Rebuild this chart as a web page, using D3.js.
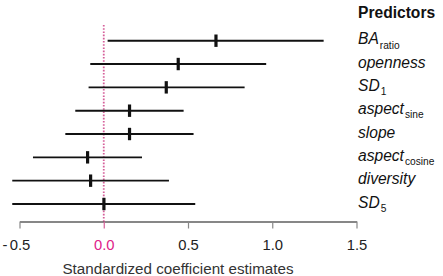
<!DOCTYPE html>
<html><head><meta charset="utf-8">
<script src="https://cdn.jsdelivr.net/npm/d3@7"></script>
<style>body{margin:0;background:#fff}svg{display:block;font-family:"Liberation Sans",Arial,sans-serif}</style>
</head><body><svg id="c" width="443" height="276"></svg>
<script>
const predictors = ["BA","openness","SD","aspect","slope","aspect","diversity","SD"];
const subscripts = ["ratio","","1","sine","","cosine","","5"];
const estimates = [0.666, 0.442, 0.371, 0.153, 0.153, -0.096, -0.078, 0.001];
const lower = [0.023, -0.08, -0.09, -0.169, -0.228, -0.42, -0.543, -0.543];
const upper = [1.305, 0.964, 0.836, 0.474, 0.533, 0.227, 0.387, 0.543];
const tickValues = [-0.5, 0, 0.5, 1.0, 1.5];
const tickLabels = ["-0.5", "0.0", "0.5", "1.0", "1.5"];

const svg = d3.select("#c");
const x = d3.scaleLinear().domain([-0.5, 1.5]).range([19.5, 356.5]);
const y = d3.scalePoint().domain(d3.range(predictors.length)).range([40.7, 204]);
const pink = "#e0218a";

// zero line
svg.append("line").attr("x1", x(0)).attr("x2", x(0)).attr("y1", 25).attr("y2", 221.5)
  .attr("stroke", "#d6609a").attr("stroke-width", 1.8).attr("stroke-dasharray", "1.6,1.6");

const rows = svg.append("g").selectAll("g").data(estimates).join("g");
rows.append("line").attr("x1", (d, i) => x(lower[i])).attr("x2", (d, i) => x(upper[i]))
  .attr("y1", (d, i) => y(i)).attr("y2", (d, i) => y(i)).attr("stroke", "#111").attr("stroke-width", 1.9);
rows.append("line").attr("x1", d => x(d)).attr("x2", d => x(d))
  .attr("y1", (d, i) => y(i) - 6.2).attr("y2", (d, i) => y(i) + 6.2).attr("stroke", "#111").attr("stroke-width", 3.2);

// axis
const ax = svg.append("g").attr("transform", "translate(0,221.5)")
  .call(d3.axisBottom(x).tickValues(tickValues).tickSize(7).tickSizeOuter(0)
    .tickFormat((d, i) => tickLabels[i].replace(/^-/, "")));
ax.select(".domain").attr("stroke", "#111").attr("stroke-width", 1.2);
ax.selectAll(".tick line").attr("stroke", (d) => d === 0 ? "#d6609a" : "#888").attr("stroke-width", 1.2);
ax.selectAll(".tick text").attr("font-size", 14.8).attr("font-family", "Liberation Sans, Arial, sans-serif")
  .attr("fill", d => d === 0 ? pink : "#222").attr("y", 17.5).attr("dy", "0.71em");
// minus signs placed left of the number, as in the reference
ax.selectAll(".tick").filter((d, i) => tickLabels[i].startsWith("-"))
  .append("text").attr("x", -12.5).attr("y", 17.5).attr("dy", "0.71em").attr("text-anchor", "end")
  .attr("font-size", 14.8).attr("fill", "#222").text("-");

svg.append("text").attr("x", 178).attr("y", 274).attr("text-anchor", "middle")
  .attr("font-size", 15.2).attr("fill", "#333").text("Standardized coefficient estimates");

// legend
svg.append("text").attr("x", 358).attr("y", 18.3).attr("font-size", 15.6).attr("font-weight", "bold")
  .attr("fill", "#111").text("Predictors");
const lg = svg.append("g").selectAll("text").data(predictors).join("text")
  .attr("x", 358).attr("y", (d, i) => y(i) + 3.5).attr("font-size", 15.6).attr("font-style", "italic").attr("fill", "#111");
lg.append("tspan").text(d => d);
lg.append("tspan").attr("font-size", 10.2).attr("font-style", "normal").attr("dy", 4.3).attr("dx", 1).text((d, i) => subscripts[i]);
</script></body></html>
